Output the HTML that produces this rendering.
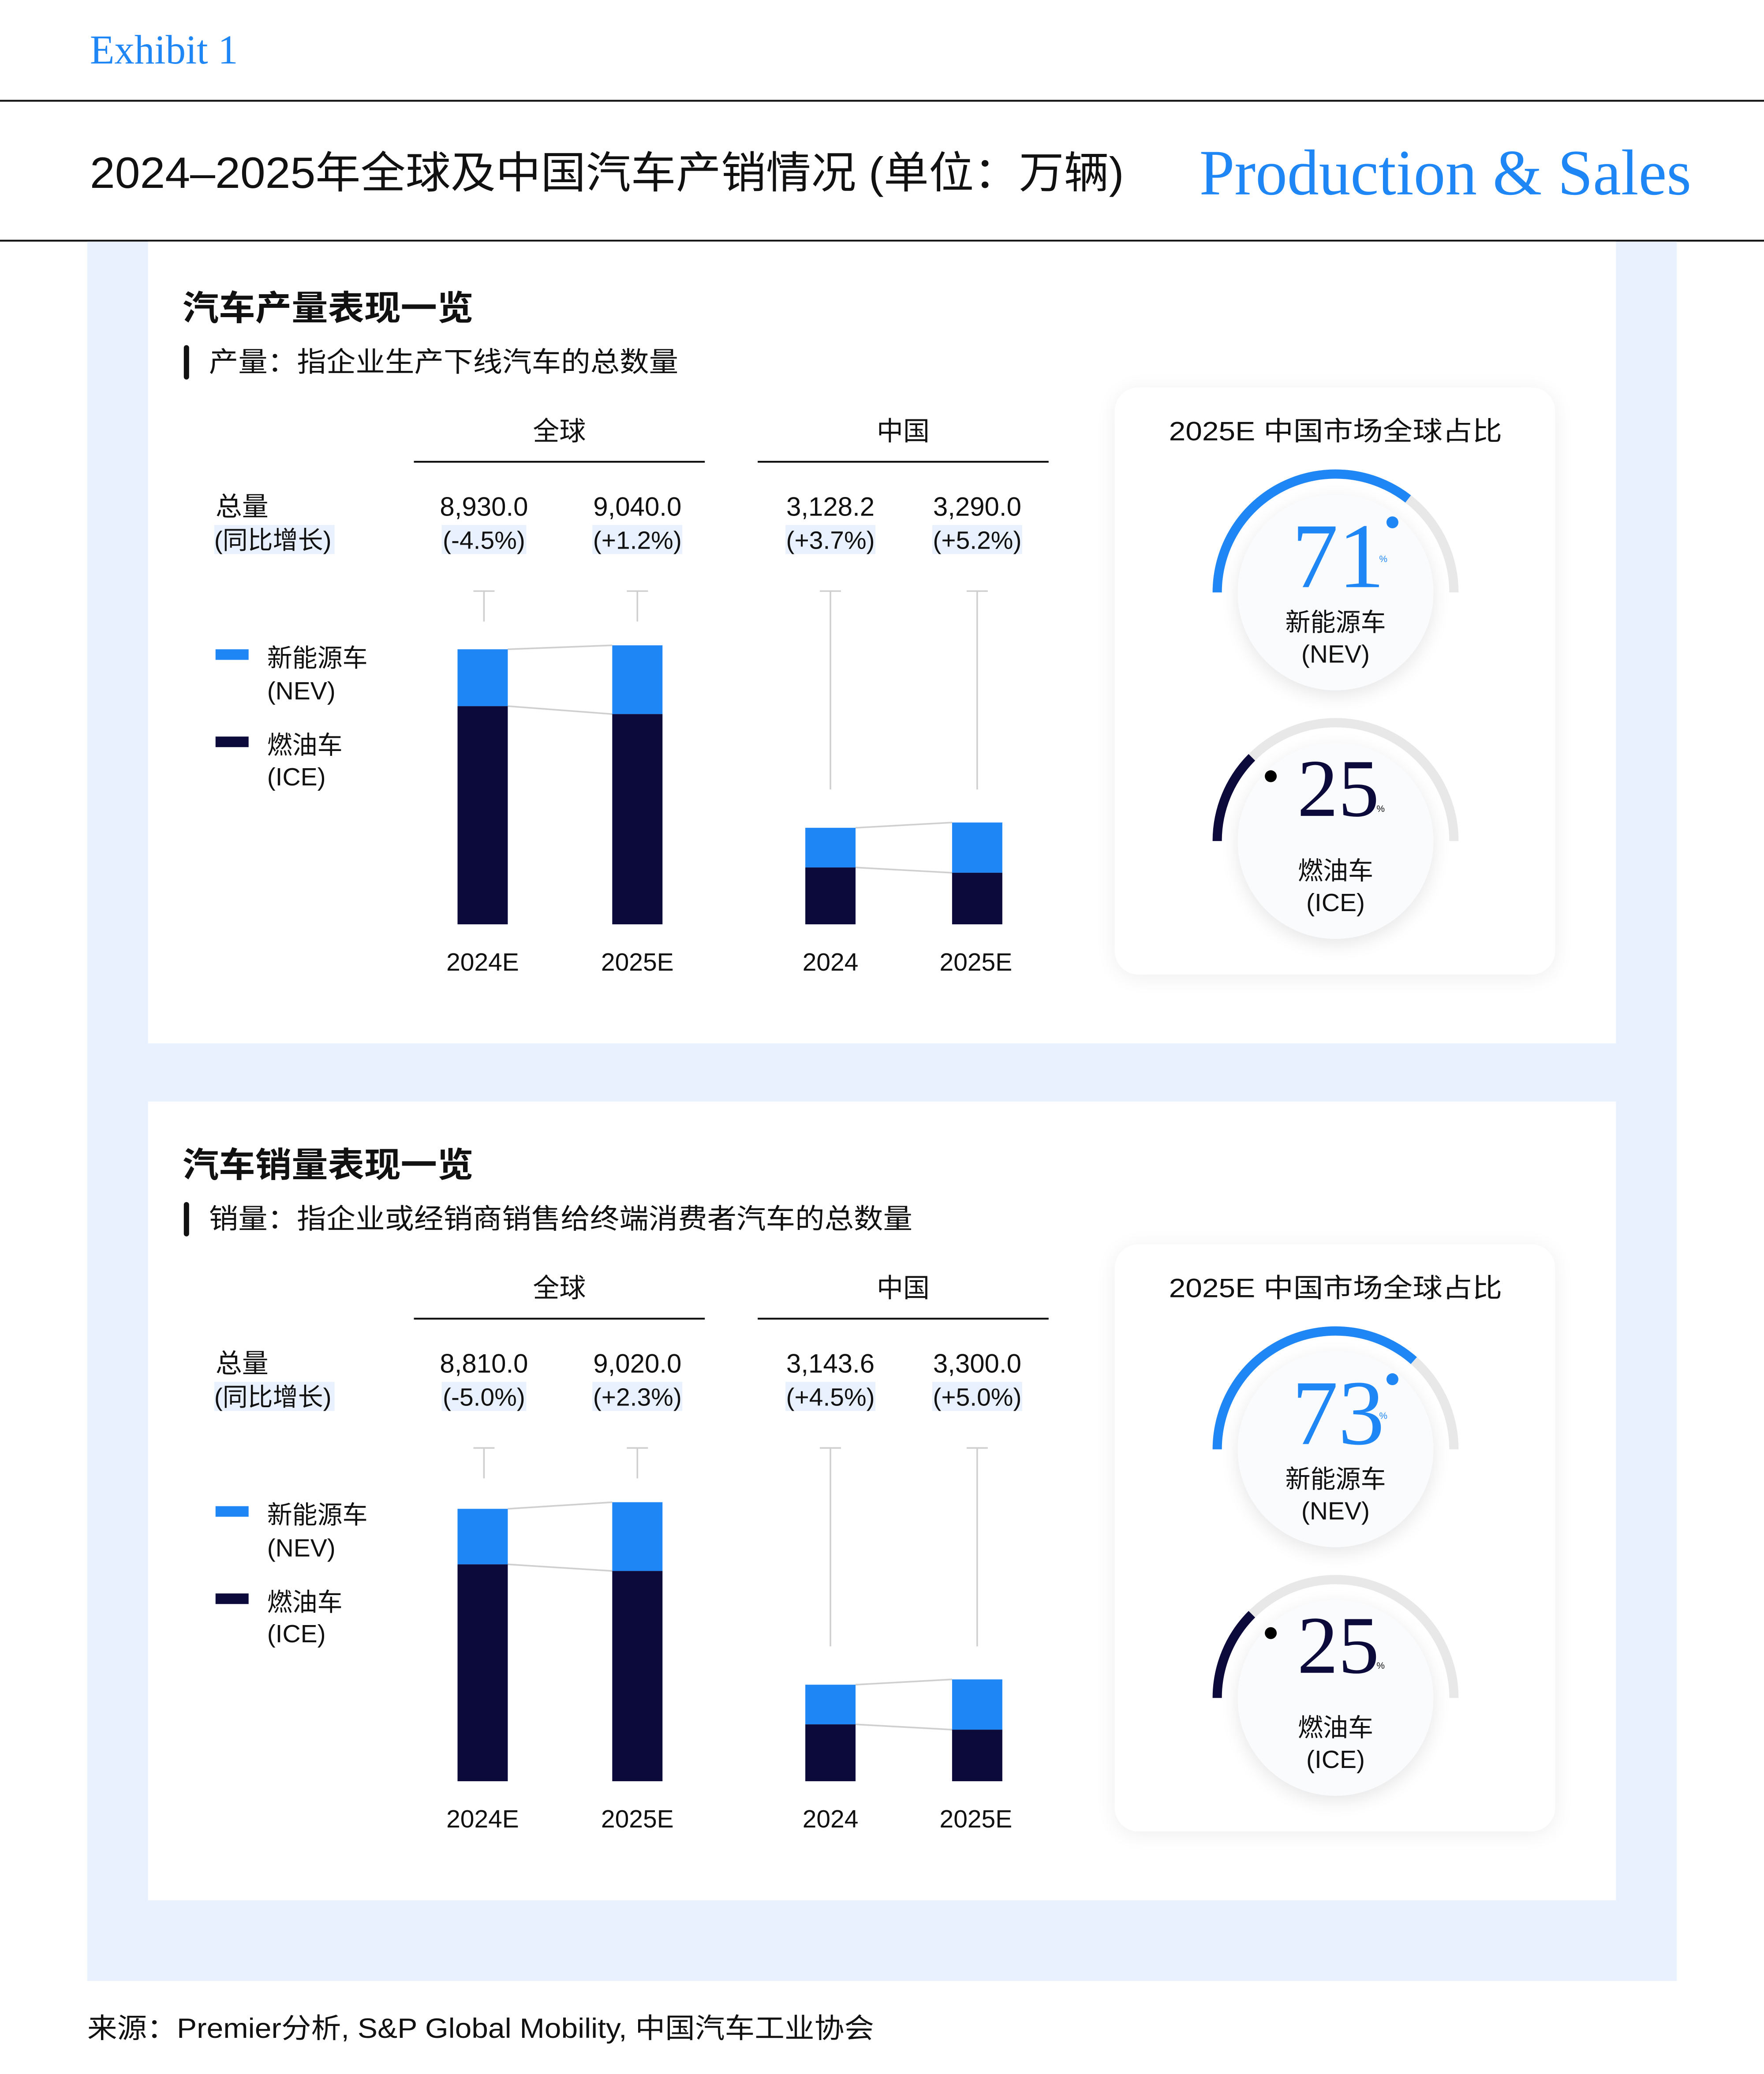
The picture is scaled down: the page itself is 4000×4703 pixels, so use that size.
<!DOCTYPE html>
<html><head><meta charset="utf-8"><style>
html,body{margin:0;padding:0;background:#fff;}
svg{display:block;}
text{font-family:"Liberation Sans","Noto Sans CJK SC",sans-serif;}
.serif{font-family:"Liberation Serif","Noto Serif CJK SC",serif;}
</style></head><body>
<svg width="4000" height="4703" viewBox="0 0 1334 1568.4" preserveAspectRatio="none" xmlns="http://www.w3.org/2000/svg">
<defs>
<filter id="sh" x="-20%" y="-20%" width="140%" height="140%"><feGaussianBlur in="SourceAlpha" stdDeviation="8"/><feOffset dy="2"/><feComponentTransfer><feFuncA type="linear" slope="0.07"/></feComponentTransfer><feMerge><feMergeNode/><feMergeNode in="SourceGraphic"/></feMerge></filter>
<filter id="sh2" x="-30%" y="-30%" width="160%" height="160%"><feGaussianBlur in="SourceAlpha" stdDeviation="7"/><feOffset dy="4"/><feComponentTransfer><feFuncA type="linear" slope="0.10"/></feComponentTransfer><feMerge><feMergeNode/><feMergeNode in="SourceGraphic"/></feMerge></filter>
</defs>
<rect width="1334" height="1568.4" fill="#fff"/>
<text x="68" y="48" class="serif" font-size="31" fill="#1f86f5" textLength="112" lengthAdjust="spacingAndGlyphs">Exhibit 1</text>
<rect x="0" y="75.5" width="1334" height="1.4" fill="#111"/>
<text x="68" y="142" font-size="33" fill="#111" textLength="782" lengthAdjust="spacingAndGlyphs">2024–2025年全球及中国汽车产销情况 (单位：万辆)</text>
<text x="907" y="147" class="serif" font-size="49" fill="#1f86f5" textLength="372" lengthAdjust="spacingAndGlyphs">Production &amp; Sales</text>
<rect x="0" y="181.3" width="1334" height="1.4" fill="#111"/>
<rect x="66" y="182.7" width="1202" height="1315.3" fill="#e8f1fd"/>

<!-- Panel 1 -->
<g>
<rect x="112" y="182.7" width="1110" height="606.3" fill="#fff"/>
<text x="138" y="242" font-size="26" font-weight="bold" fill="#111" textLength="220" lengthAdjust="spacingAndGlyphs">汽车产量表现一览</text>
<rect x="139" y="261" width="4" height="26" rx="2" fill="#111"/>
<text x="158" y="281" font-size="21" fill="#111" textLength="355" lengthAdjust="spacingAndGlyphs">产量：指企业生产下线汽车的总数量</text>
<text x="423" y="333" font-size="20" text-anchor="middle" fill="#111">全球</text>
<rect x="313" y="348.5" width="220" height="1.4" fill="#111"/>
<text x="683" y="333" font-size="20" text-anchor="middle" fill="#111">中国</text>
<rect x="573" y="348.5" width="220" height="1.4" fill="#111"/>
<text x="163" y="390" font-size="20" fill="#111">总量</text>
<rect x="162" y="397" width="91" height="22" fill="#e8f1fd"/>
<text x="162" y="415" font-size="19" fill="#111">(同比增长)</text>
<text x="366" y="390" font-size="20" text-anchor="middle" fill="#111">8,930.0</text>
<rect x="334" y="397" width="64" height="22" fill="#e8f1fd"/>
<text x="366" y="415" font-size="19" text-anchor="middle" fill="#111">(-4.5%)</text>
<text x="482" y="390" font-size="20" text-anchor="middle" fill="#111">9,040.0</text>
<rect x="448" y="397" width="68" height="22" fill="#e8f1fd"/>
<text x="482" y="415" font-size="19" text-anchor="middle" fill="#111">(+1.2%)</text>
<text x="628" y="390" font-size="20" text-anchor="middle" fill="#111">3,128.2</text>
<rect x="594" y="397" width="68" height="22" fill="#e8f1fd"/>
<text x="628" y="415" font-size="19" text-anchor="middle" fill="#111">(+3.7%)</text>
<text x="739" y="390" font-size="20" text-anchor="middle" fill="#111">3,290.0</text>
<rect x="705" y="397" width="68" height="22" fill="#e8f1fd"/>
<text x="739" y="415" font-size="19" text-anchor="middle" fill="#111">(+5.2%)</text>
<g stroke="#cfcfcf" stroke-width="1.2" fill="none">
<path d="M366 447V470M358 447H374"/><path d="M482 447V470M474 447H490"/>
<path d="M628 447V597M620 447H636"/><path d="M739 447V597M731 447H747"/>
<path d="M384 491L463 488M384 534L463 540"/>
<path d="M647 626L720 622M647 656L720 660"/>
</g>
<rect x="346" y="491" width="38" height="43" fill="#1f86f5"/><rect x="346" y="534" width="38" height="165" fill="#0b0a3b"/>
<rect x="463" y="488" width="38" height="52" fill="#1f86f5"/><rect x="463" y="540" width="38" height="159" fill="#0b0a3b"/>
<rect x="609" y="626" width="38" height="30" fill="#1f86f5"/><rect x="609" y="656" width="38" height="43" fill="#0b0a3b"/>
<rect x="720" y="622" width="38" height="38" fill="#1f86f5"/><rect x="720" y="660" width="38" height="39" fill="#0b0a3b"/>
<g font-size="19" text-anchor="middle" fill="#111">
<text x="365" y="734">2024E</text><text x="482" y="734">2025E</text><text x="628" y="734">2024</text><text x="738" y="734">2025E</text>
</g>
<rect x="163" y="491" width="25" height="8" fill="#1f86f5"/>
<text x="202" y="504" font-size="19" fill="#111">新能源车</text><text x="202" y="529" font-size="19" fill="#111">(NEV)</text>
<rect x="163" y="557" width="25" height="8" fill="#0b0a3b"/>
<text x="202" y="570" font-size="19" fill="#111">燃油车</text><text x="202" y="594" font-size="19" fill="#111">(ICE)</text>
<rect x="843" y="293" width="333" height="444" rx="18" fill="#fff" filter="url(#sh)"/>
<text x="1010" y="333" font-size="20" text-anchor="middle" fill="#111" textLength="252" lengthAdjust="spacingAndGlyphs">2025E 中国市场全球占比</text>
<circle cx="1010" cy="448" r="74" fill="#fafbfd" filter="url(#sh2)"/>
<path d="M920.5 448A89.5 89.5 0 0 1 1099.5 448" stroke="#e8e8e8" stroke-width="7" fill="none"/>
<path d="M920.5 448A89.5 89.5 0 0 1 1064.9 377.3" stroke="#1f86f5" stroke-width="7" fill="none"/>
<circle cx="1053" cy="395" r="4.5" fill="#1f86f5"/>
<text x="1012" y="444" class="serif" font-size="70" text-anchor="middle" fill="#1f86f5">71</text>
<text x="1043" y="425" font-size="7" fill="#1f86f5">%</text>
<text x="1010" y="477" font-size="19" text-anchor="middle" fill="#111">新能源车</text>
<text x="1010" y="501" font-size="19" text-anchor="middle" fill="#111">(NEV)</text>
<circle cx="1010" cy="636" r="74" fill="#fafbfd" filter="url(#sh2)"/>
<path d="M920.5 636A89.5 89.5 0 0 1 1099.5 636" stroke="#e8e8e8" stroke-width="7" fill="none"/>
<path d="M920.5 636A89.5 89.5 0 0 1 946.7 572.7" stroke="#0b0a3b" stroke-width="7" fill="none"/>
<circle cx="961" cy="587" r="4.5" fill="#000"/>
<text x="1012" y="617" class="serif" font-size="62" text-anchor="middle" fill="#0b0a3b">25</text>
<text x="1041" y="614" font-size="7" fill="#111">%</text>
<text x="1010" y="665" font-size="19" text-anchor="middle" fill="#111">燃油车</text>
<text x="1010" y="689" font-size="19" text-anchor="middle" fill="#111">(ICE)</text>
</g>

<!-- Panel 2 -->
<g>
<rect x="112" y="833" width="1110" height="604" fill="#fff"/>
<text x="138" y="890" font-size="26" font-weight="bold" fill="#111" textLength="220" lengthAdjust="spacingAndGlyphs">汽车销量表现一览</text>
<rect x="139" y="909" width="4" height="26" rx="2" fill="#111"/>
<text x="158" y="929" font-size="21" fill="#111" textLength="532" lengthAdjust="spacingAndGlyphs">销量：指企业或经销商销售给终端消费者汽车的总数量</text>
<text x="423" y="981" font-size="20" text-anchor="middle" fill="#111">全球</text>
<rect x="313" y="996.5" width="220" height="1.4" fill="#111"/>
<text x="683" y="981" font-size="20" text-anchor="middle" fill="#111">中国</text>
<rect x="573" y="996.5" width="220" height="1.4" fill="#111"/>
<text x="163" y="1038" font-size="20" fill="#111">总量</text>
<rect x="162" y="1045" width="91" height="22" fill="#e8f1fd"/>
<text x="162" y="1063" font-size="19" fill="#111">(同比增长)</text>
<text x="366" y="1038" font-size="20" text-anchor="middle" fill="#111">8,810.0</text>
<rect x="334" y="1045" width="64" height="22" fill="#e8f1fd"/>
<text x="366" y="1063" font-size="19" text-anchor="middle" fill="#111">(-5.0%)</text>
<text x="482" y="1038" font-size="20" text-anchor="middle" fill="#111">9,020.0</text>
<rect x="448" y="1045" width="68" height="22" fill="#e8f1fd"/>
<text x="482" y="1063" font-size="19" text-anchor="middle" fill="#111">(+2.3%)</text>
<text x="628" y="1038" font-size="20" text-anchor="middle" fill="#111">3,143.6</text>
<rect x="594" y="1045" width="68" height="22" fill="#e8f1fd"/>
<text x="628" y="1063" font-size="19" text-anchor="middle" fill="#111">(+4.5%)</text>
<text x="739" y="1038" font-size="20" text-anchor="middle" fill="#111">3,300.0</text>
<rect x="705" y="1045" width="68" height="22" fill="#e8f1fd"/>
<text x="739" y="1063" font-size="19" text-anchor="middle" fill="#111">(+5.0%)</text>
<g stroke="#cfcfcf" stroke-width="1.2" fill="none">
<path d="M366 1095V1118M358 1095H374"/><path d="M482 1095V1118M474 1095H490"/>
<path d="M628 1095V1245M620 1095H636"/><path d="M739 1095V1245M731 1095H747"/>
<path d="M384 1141L463 1136M384 1183L463 1188"/>
<path d="M647 1274L720 1270M647 1304L720 1308"/>
</g>
<rect x="346" y="1141" width="38" height="42" fill="#1f86f5"/><rect x="346" y="1183" width="38" height="164" fill="#0b0a3b"/>
<rect x="463" y="1136" width="38" height="52" fill="#1f86f5"/><rect x="463" y="1188" width="38" height="159" fill="#0b0a3b"/>
<rect x="609" y="1274" width="38" height="30" fill="#1f86f5"/><rect x="609" y="1304" width="38" height="43" fill="#0b0a3b"/>
<rect x="720" y="1270" width="38" height="38" fill="#1f86f5"/><rect x="720" y="1308" width="38" height="39" fill="#0b0a3b"/>
<g font-size="19" text-anchor="middle" fill="#111">
<text x="365" y="1382">2024E</text><text x="482" y="1382">2025E</text><text x="628" y="1382">2024</text><text x="738" y="1382">2025E</text>
</g>
<rect x="163" y="1139" width="25" height="8" fill="#1f86f5"/>
<text x="202" y="1152" font-size="19" fill="#111">新能源车</text><text x="202" y="1177" font-size="19" fill="#111">(NEV)</text>
<rect x="163" y="1205" width="25" height="8" fill="#0b0a3b"/>
<text x="202" y="1218" font-size="19" fill="#111">燃油车</text><text x="202" y="1242" font-size="19" fill="#111">(ICE)</text>
<rect x="843" y="941" width="333" height="444" rx="18" fill="#fff" filter="url(#sh)"/>
<text x="1010" y="981" font-size="20" text-anchor="middle" fill="#111" textLength="252" lengthAdjust="spacingAndGlyphs">2025E 中国市场全球占比</text>
<circle cx="1010" cy="1096" r="74" fill="#fafbfd" filter="url(#sh2)"/>
<path d="M920.5 1096A89.5 89.5 0 0 1 1099.5 1096" stroke="#e8e8e8" stroke-width="7" fill="none"/>
<path d="M920.5 1096A89.5 89.5 0 0 1 1069.2 1028.9" stroke="#1f86f5" stroke-width="7" fill="none"/>
<circle cx="1053" cy="1043" r="4.5" fill="#1f86f5"/>
<text x="1012" y="1092" class="serif" font-size="70" text-anchor="middle" fill="#1f86f5">73</text>
<text x="1043" y="1073" font-size="7" fill="#1f86f5">%</text>
<text x="1010" y="1125" font-size="19" text-anchor="middle" fill="#111">新能源车</text>
<text x="1010" y="1149" font-size="19" text-anchor="middle" fill="#111">(NEV)</text>
<circle cx="1010" cy="1284" r="74" fill="#fafbfd" filter="url(#sh2)"/>
<path d="M920.5 1284A89.5 89.5 0 0 1 1099.5 1284" stroke="#e8e8e8" stroke-width="7" fill="none"/>
<path d="M920.5 1284A89.5 89.5 0 0 1 946.7 1220.7" stroke="#0b0a3b" stroke-width="7" fill="none"/>
<circle cx="961" cy="1235" r="4.5" fill="#000"/>
<text x="1012" y="1265" class="serif" font-size="62" text-anchor="middle" fill="#0b0a3b">25</text>
<text x="1041" y="1262" font-size="7" fill="#111">%</text>
<text x="1010" y="1313" font-size="19" text-anchor="middle" fill="#111">燃油车</text>
<text x="1010" y="1337" font-size="19" text-anchor="middle" fill="#111">(ICE)</text>
</g>

<text x="66" y="1541" font-size="21" fill="#111" textLength="595" lengthAdjust="spacingAndGlyphs">来源：Premier分析, S&amp;P Global Mobility, 中国汽车工业协会</text>
</svg>
</body></html>
